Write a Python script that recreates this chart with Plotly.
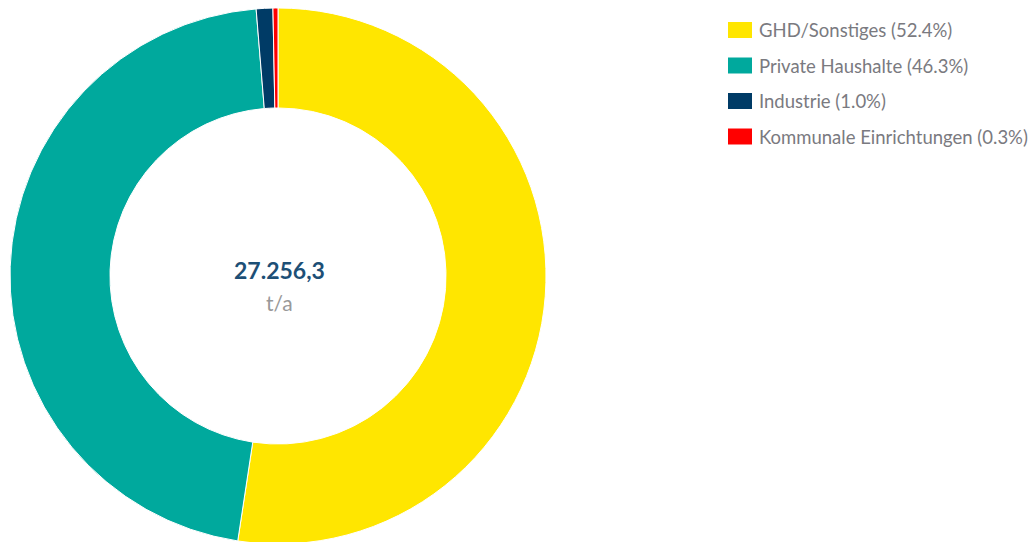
import plotly.graph_objects as go

labels = ["GHD/Sonstiges", "Private Haushalte", "Industrie", "Kommunale Einrichtungen"]
shares = [52.4, 46.3, 1.0, 0.3]
colors = ["#FFE600", "#00A99D", "#003B66", "#FF0000"]
total_text = "27.256,3"
unit_text = "t/a"

W, H = 1035, 550  # page is cropped to 542 px by the window, like the reference

fig = go.Figure()
fig.add_trace(go.Pie(
    labels=labels, values=shares, sort=False, direction="clockwise", rotation=0,
    hole=0.627, marker=dict(colors=colors, line=dict(color="white", width=1)),
    textinfo="none", hoverinfo="label+percent", showlegend=False,
    domain=dict(x=[10 / W, 546 / W], y=[6 / H, 542 / H]),
))

shapes = []
annotations = []
y0 = 30
step = 35.5
for i, (lab, s, c) in enumerate(zip(labels, shares, colors)):
    yc = y0 + i * step
    shapes.append(dict(type="rect", xref="paper", yref="paper",
                       x0=728 / W, x1=752 / W, y0=1 - (yc + 8) / H, y1=1 - (yc - 8) / H,
                       fillcolor=c, line=dict(width=0)))
    annotations.append(dict(xref="paper", yref="paper", x=757 / W, y=1 - yc / H,
                            xanchor="left", yanchor="middle", showarrow=False,
                            text=f"{lab} ({s:.1f}%)",
                            font=dict(family="Lato", size=18.5, color="#7a7a80")))

annotations.append(dict(xref="paper", yref="paper", x=279 / W, y=1 - 270 / H,
                        xanchor="center", yanchor="middle", showarrow=False,
                        text=f"<b>{total_text}</b>",
                        font=dict(family="Lato", size=23, color="#1d4f76")))
annotations.append(dict(xref="paper", yref="paper", x=279 / W, y=1 - 302 / H,
                        xanchor="center", yanchor="middle", showarrow=False,
                        text=unit_text,
                        font=dict(family="Lato", size=21, color="#999999")))

fig.update_layout(width=W, height=H, margin=dict(l=0, r=0, t=0, b=0),
                  paper_bgcolor="white", plot_bgcolor="white",
                  shapes=shapes, annotations=annotations,
                  font=dict(family="Lato"))
fig.write_html("out.html", config={"displayModeBar": False},
               post_script="document.body.style.margin='0';document.body.style.overflow='hidden';")
